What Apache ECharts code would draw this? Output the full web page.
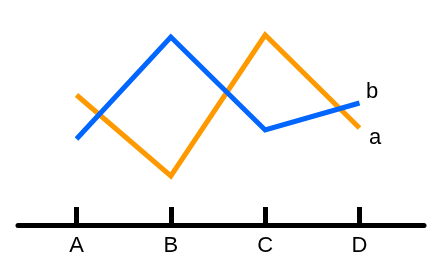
<!DOCTYPE html>
<html><head><meta charset="utf-8">
<script src="https://cdn.jsdelivr.net/npm/echarts@6/dist/echarts.min.js"></script>
<style>html,body{margin:0;padding:0;background:#fff}#c{width:435px;height:273px}</style>
</head><body><div id="c"></div>
<script>
const categories = ['A', 'B', 'C', 'D'];
const seriesA = [65, 24.5, 95, 48.5];
const seriesB = [43, 94, 47.5, 61];
const seriesNames = ['a', 'b'];

const chart = echarts.init(document.getElementById('c'), null, {renderer: 'canvas'});
const font = 'Liberation Sans, Arial, sans-serif';
chart.setOption({
  animation: false,
  backgroundColor: '#ffffff',
  grid: [
    {left: 76.5, right: 75.5, top: 25, bottom: 48},
    {left: 18, right: 11, top: 25, bottom: 48}
  ],
  xAxis: [
    {
      type: 'category', data: categories, boundaryGap: false, gridIndex: 0,
      axisLine: {show: false},
      axisTick: {show: true, inside: true, length: 18, lineStyle: {color: '#000', width: 5}},
      axisLabel: {color: '#000', fontSize: 22, fontFamily: font, margin: 10},
      splitLine: {show: false}
    },
    {
      type: 'value', min: 0, max: 1, gridIndex: 1,
      axisLine: {show: true, lineStyle: {color: '#000', width: 5}},
      axisTick: {show: false}, axisLabel: {show: false}, splitLine: {show: false}
    }
  ],
  yAxis: [
    {type: 'value', min: 0, max: 100, gridIndex: 0, show: false},
    {type: 'value', min: 0, max: 1, gridIndex: 1, show: false}
  ],
  series: [
    {
      name: seriesNames[0], type: 'line', data: seriesA, symbol: 'none', z: 3,
      lineStyle: {color: '#FF9900', width: 5, join: 'miter', cap: 'butt'},
      endLabel: {show: true, formatter: '{a}', color: '#000', fontSize: 22, fontFamily: font, offset: [1.5, 10]}
    },
    {
      name: seriesNames[1], type: 'line', data: seriesB, symbol: 'none', z: 4,
      lineStyle: {color: '#0066FF', width: 5, join: 'miter', cap: 'butt'},
      endLabel: {show: true, formatter: '{a}', color: '#000', fontSize: 22, fontFamily: font, offset: [-1.5, -11]}
    }
  ]
});
</script></body></html>
